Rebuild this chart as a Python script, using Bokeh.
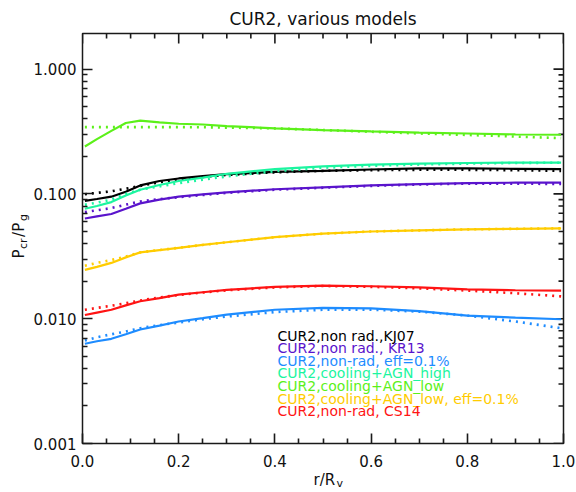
import math
from bokeh.plotting import figure
from bokeh.models import (Range1d, LinearAxis, LogAxis, FixedTicker,
                          PrintfTickFormatter, Label)
from bokeh.embed import file_html
from bokeh.resources import INLINE

# ---------------- data ----------------
r = [0.005, 0.03, 0.06, 0.09, 0.12, 0.16, 0.2, 0.25, 0.3, 0.4, 0.5, 0.6, 0.7, 0.8, 0.9, 0.995]

kj07_solid = [0.088, 0.091, 0.095, 0.104, 0.117, 0.127, 0.133, 0.139, 0.144, 0.150, 0.153, 0.157, 0.160, 0.160, 0.159, 0.158]
kj07_dot   = [0.0995, 0.102, 0.105, 0.110, 0.116, 0.124, 0.130, 0.137, 0.142, 0.149, 0.153, 0.155, 0.156, 0.156, 0.155, 0.153]

kr13_solid = [0.0635, 0.066, 0.069, 0.076, 0.084, 0.090, 0.095, 0.099, 0.103, 0.109, 0.113, 0.117, 0.120, 0.122, 0.123, 0.123]
kr13_dot   = [0.0715, 0.074, 0.077, 0.082, 0.087, 0.091, 0.094, 0.098, 0.102, 0.108, 0.112, 0.116, 0.119, 0.121, 0.121, 0.120]

eff_solid = [0.0063, 0.0066, 0.0069, 0.0075, 0.0082, 0.0088, 0.0095, 0.0101, 0.0108, 0.0118, 0.0122, 0.0121, 0.0115, 0.0106, 0.0102, 0.0099]
eff_dot   = [0.0067, 0.0071, 0.0075, 0.0079, 0.0084, 0.0089, 0.0093, 0.0099, 0.0104, 0.0113, 0.0118, 0.0118, 0.0114, 0.0106, 0.0095, 0.0084]

high_solid = [0.076, 0.080, 0.086, 0.097, 0.108, 0.118, 0.127, 0.135, 0.145, 0.158, 0.166, 0.172, 0.175, 0.177, 0.178, 0.178]
high_dot   = [0.082, 0.085, 0.090, 0.100, 0.108, 0.115, 0.122, 0.130, 0.138, 0.152, 0.162, 0.168, 0.172, 0.175, 0.177, 0.178]

low_solid = [0.240, 0.275, 0.320, 0.370, 0.387, 0.375, 0.365, 0.360, 0.350, 0.335, 0.325, 0.317, 0.310, 0.305, 0.300, 0.298]
low_dot   = [0.343, 0.343, 0.343, 0.343, 0.343, 0.343, 0.343, 0.342, 0.340, 0.335, 0.325, 0.315, 0.305, 0.297, 0.288, 0.280]

loweff_solid = [0.0246, 0.026, 0.028, 0.031, 0.034, 0.0355, 0.037, 0.039, 0.041, 0.045, 0.048, 0.050, 0.051, 0.052, 0.0525, 0.053]
loweff_dot   = [0.0266, 0.028, 0.0295, 0.0315, 0.034, 0.0355, 0.037, 0.039, 0.041, 0.045, 0.048, 0.050, 0.051, 0.052, 0.0525, 0.053]

cs14_solid = [0.0107, 0.0112, 0.0118, 0.0128, 0.0138, 0.0146, 0.0156, 0.0163, 0.0170, 0.0180, 0.0184, 0.0182, 0.0178, 0.0172, 0.0169, 0.0168]
cs14_dot   = [0.0118, 0.0122, 0.0127, 0.0133, 0.0140, 0.0148, 0.0155, 0.0162, 0.0169, 0.0178, 0.0183, 0.0180, 0.0175, 0.0168, 0.0160, 0.0151]

labels = ["CUR2,non rad.,KJ07", "CUR2,non rad., KR13", "CUR2,non-rad, eff=0.1%",
          "CUR2,cooling+AGN_high", "CUR2,cooling+AGN_low", "CUR2,cooling+AGN_low, eff=0.1%",
          "CUR2,non-rad, CS14"]
colors = ["#000000", "#5a14cc", "#1e8cff", "#1cf5a0", "#5cf01a", "#ffcc00", "#ff1414"]

x_ticks = [0.0, 0.2, 0.4, 0.6, 0.8, 1.0]
x_minor = [0.05, 0.1, 0.15, 0.25, 0.3, 0.35, 0.45, 0.5, 0.55, 0.65, 0.7, 0.75, 0.85, 0.9, 0.95]
y_ticks = [0.001, 0.01, 0.1, 1.0]
y_minor = [0.002, 0.003, 0.004, 0.005, 0.006, 0.007, 0.008, 0.009,
           0.02, 0.03, 0.04, 0.05, 0.06, 0.07, 0.08, 0.09,
           0.2, 0.3, 0.4, 0.5, 0.6, 0.7, 0.8, 0.9]

series = [(kj07_solid, kj07_dot), (kr13_solid, kr13_dot), (eff_solid, eff_dot),
          (high_solid, high_dot), (low_solid, low_dot), (loweff_solid, loweff_dot),
          (cs14_solid, cs14_dot)]

FONT = "DejaVu Sans"
INK = "#1a1a1a"
TXT = "#111111"
NB = "\u00a0"
W, H = 576, 492
L, R, T, B = 82, 13, 33, 49
X0, X1 = 0.0, 1.0
Y0, Y1 = 0.001, 1.93

p = figure(width=W, height=H, output_backend="svg", toolbar_location=None,
           x_range=Range1d(X0, X1), y_range=Range1d(Y0, Y1), y_axis_type="log",
           min_border_left=L, min_border_right=R, min_border_top=T, min_border_bottom=B,
           x_axis_location=None, y_axis_location=None)
p.outline_line_color = INK
p.outline_line_width = 1.5
p.xgrid.visible = False
p.ygrid.visible = False

p.title.text = "CUR2, various models"
p.title.align = "center"
p.title.text_font = FONT
p.title.text_font_size = "17px"
p.title.text_font_style = "normal"
p.title.text_color = TXT
p.title.standoff = 9

def style(ax):
    ax.axis_line_color = INK
    ax.major_tick_line_color = INK
    ax.minor_tick_line_color = INK
    ax.major_tick_line_width = 1.6
    ax.minor_tick_line_width = 1.6
    ax.major_tick_in = 10
    ax.major_tick_out = 0
    ax.minor_tick_in = 5
    ax.minor_tick_out = 0
    ax.major_label_text_font = FONT
    ax.major_label_text_font_size = "15px"
    ax.major_label_text_color = TXT

xax = LinearAxis(ticker=FixedTicker(ticks=x_ticks, minor_ticks=x_minor),
                 formatter=PrintfTickFormatter(format="%.1f"))
style(xax)
xax.major_label_standoff = 11
p.add_layout(xax, "below")

yax = LogAxis(ticker=FixedTicker(ticks=y_ticks, minor_ticks=y_minor),
              formatter=PrintfTickFormatter(format="%.3f"))
style(yax)
yax.major_label_standoff = 6
p.add_layout(yax, "left")

# mirrored ticks on top and right edges (no labels)
p.ray(x=x_ticks, y=[Y1] * len(x_ticks), length=10, length_units="screen",
      angle=-math.pi / 2, line_color=INK, line_width=1.6)
p.ray(x=x_minor, y=[Y1] * len(x_minor), length=5, length_units="screen",
      angle=-math.pi / 2, line_color=INK, line_width=1.6)
p.ray(x=[X1] * len(y_ticks), y=y_ticks, length=10, length_units="screen",
      angle=math.pi, line_color=INK, line_width=1.6)
p.ray(x=[X1] * len(y_minor), y=y_minor, length=5, length_units="screen",
      angle=math.pi, line_color=INK, line_width=1.6)

for (solid, dot), c in zip(series, colors):
    p.line(r, solid, line_color=c, line_width=2.2)
    p.line(r, dot, line_color=c, line_width=2.6, line_dash="2 5")

# legend texts (canvas pixel layout)
for i, (lab, c) in enumerate(zip(labels, colors)):
    p.add_layout(Label(x=277, y=335 + 12.6 * i, x_units="canvas", y_units="canvas",
                       text=lab, text_color=c, text_font=FONT, text_font_size="14px",
                       text_baseline="middle", text_align="left"))

# axis titles: labels placed in side panels (unclipped), positioned in canvas pixels
# x axis title  r/R_v
p.add_layout(Label(x=313, y=479, x_units="canvas", y_units="canvas", text="r/R",
                   text_font=FONT, text_font_size="15px", text_baseline="alphabetic",
                   text_color=TXT), "below")
p.add_layout(Label(x=336, y=483, x_units="canvas", y_units="canvas", text="v",
                   text_font=FONT, text_font_size="11px", text_baseline="alphabetic",
                   text_color=TXT), "left")

# y axis title  P_cr/P_g  (rotated): main letters + subscripts
p.add_layout(Label(x=18.5, y=258, x_units="canvas", y_units="canvas",
                   text="P" + NB * 2 + "\u2009/P", angle=math.pi / 2,
                   text_font=FONT, text_font_size="15px", text_baseline="alphabetic",
                   text_align="left", text_color=TXT), "left")
p.add_layout(Label(x=22.5, y=248.5, x_units="canvas", y_units="canvas",
                   text="cr" + NB * 5 + "g", angle=math.pi / 2,
                   text_font=FONT, text_font_size="11px", text_baseline="alphabetic",
                   text_align="left", text_color=TXT), "right")

open("out.html", "w").write(file_html(p, INLINE))
